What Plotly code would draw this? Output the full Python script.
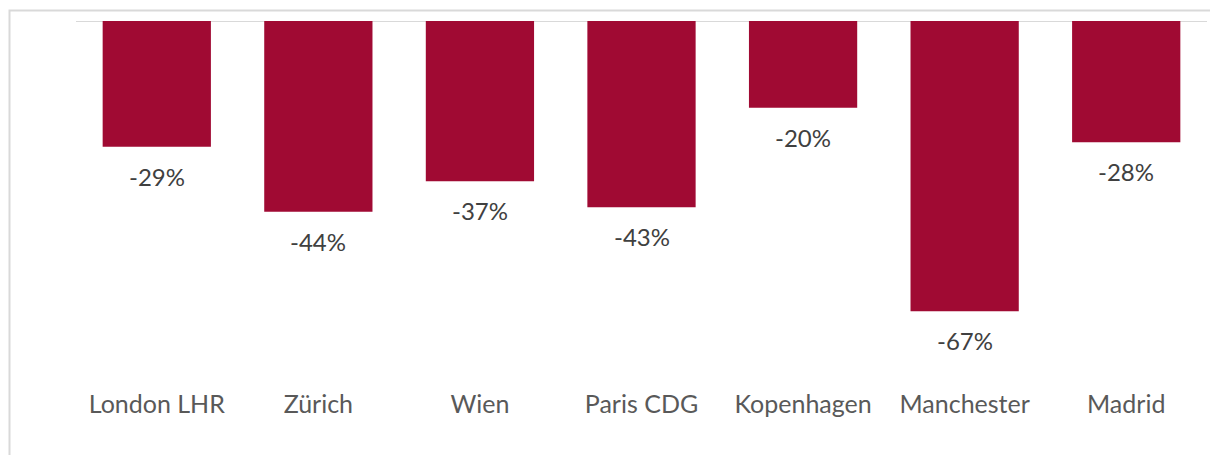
import plotly.graph_objects as go

categories = ["London LHR", "Zürich", "Wien", "Paris CDG", "Kopenhagen", "Manchester", "Madrid"]
values = [-29, -44, -37, -43, -20, -67, -28]
value_labels = ["-29%", "-44%", "-37%", "-43%", "-20%", "-67%", "-28%"]

BAR = "#A00A33"
FONT = "Lato, 'Noto Sans', sans-serif"

fig = go.Figure()
fig.add_trace(go.Bar(x=categories, y=values, marker=dict(color=BAR, line=dict(width=0)),
                     width=0.67, hoverinfo="skip"))

for c, v, t in zip(categories, values, value_labels):
    fig.add_annotation(x=c, y=v, text=t, showarrow=False, yanchor="top", yshift=-13,
                       font=dict(family=FONT, size=24, color="#404040"))

# chart frame
fig.add_shape(type="rect", xref="paper", yref="paper", x0=-0.0588, x1=1.05, y0=-0.4, y1=1.0288,
              line=dict(color="#D9D9D9", width=2), fillcolor="rgba(0,0,0,0)", layer="below")
# baseline
fig.add_shape(type="line", xref="paper", yref="y", x0=0, x1=1, y0=0, y1=0,
              line=dict(color="#D9D9D9", width=2), layer="below")

fig.update_layout(
    width=1218, height=455,
    margin=dict(l=68, r=19, t=13, b=78),
    paper_bgcolor="white", plot_bgcolor="white",
    showlegend=False, bargap=0.33,
    xaxis=dict(showgrid=False, showline=False, ticks="", zeroline=False,
               ticklabelstandoff=2,
               tickfont=dict(family=FONT, size=25, color="#595959")),
    yaxis=dict(range=[-84, 0], visible=False, showgrid=False, zeroline=False),
)

fig.write_html("out.html")
